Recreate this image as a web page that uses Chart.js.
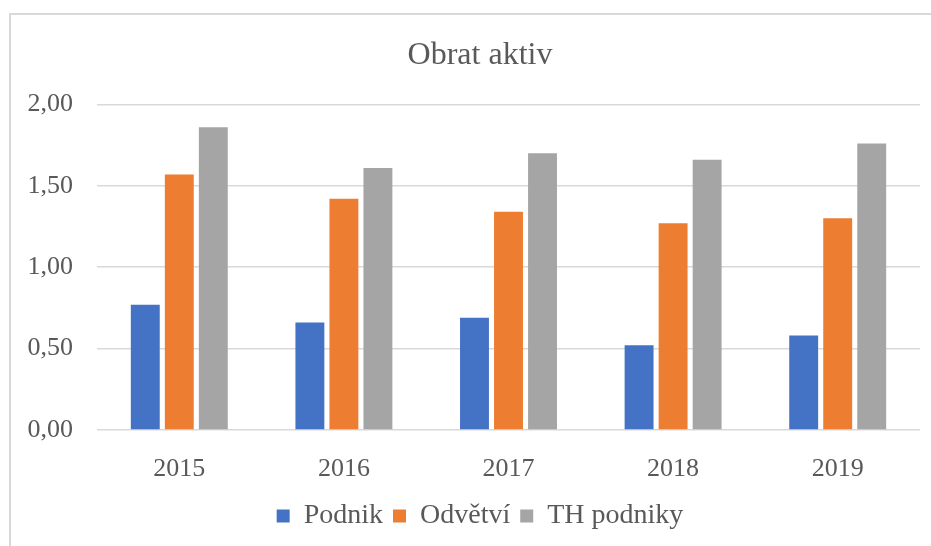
<!DOCTYPE html>
<html>
<head>
    <meta charset="UTF-8">
    <title>Obrat aktiv</title>
    <script src="https://cdn.jsdelivr.net/npm/chart.js@4.4.1/dist/chart.umd.min.js"></script>
    <style>
        html, body { margin: 0; padding: 0; background: #fff; overflow: hidden; }
        #frame { position: absolute; left: 9px; top: 13px; width: 960px; height: 600px;
                 border: 2px solid #d9d9d9; box-sizing: border-box; }
        #wrap { position: absolute; left: 0; top: 0; width: 931px; height: 546px; }
    </style>
</head>
<body>
<div id="frame"></div>
<div id="wrap">
    <canvas id="chart" width="931" height="546"></canvas>
</div>

<script>
    // Chart data
    var years = ['2015', '2016', '2017', '2018', '2019'];
    var podnik = [0.77, 0.66, 0.69, 0.52, 0.58];
    var odvetvi = [1.57, 1.42, 1.34, 1.27, 1.30];
    var thPodniky = [1.86, 1.61, 1.70, 1.66, 1.76];

    var textColor = '#595959';
    var fontFamily = '"Liberation Serif", "Times New Roman", serif';

    // Title and legend are centred on the whole frame, not on the plot,
    // so push their boxes right a bit after layout.
    var shiftBoxes = {
        id: 'shiftBoxes',
        afterLayout: function(chart) {
            if (chart.titleBlock) { chart.titleBlock.left += 40; }
            if (chart.legend) { chart.legend.left += 40; }
        }
    };

    var ctx = document.getElementById('chart').getContext('2d');
    var chart = new Chart(ctx, {
        type: 'bar',
        data: {
            labels: years,
            datasets: [{
                label: 'Podnik',
                data: podnik,
                backgroundColor: '#4472c4'
            }, {
                label: 'Odvětví',
                data: odvetvi,
                backgroundColor: '#ed7d31'
            }, {
                label: 'TH podniky',
                data: thPodniky,
                backgroundColor: '#a5a5a5'
            }]
        },
        plugins: [shiftBoxes],
        options: {
            responsive: false,
            animation: false,
            layout: { padding: { left: 0, right: 11, top: 0, bottom: 6 } },
            datasets: {
                bar: { categoryPercentage: 0.62, barPercentage: 0.85 }
            },
            plugins: {
                title: {
                    display: true,
                    text: 'Obrat aktiv',
                    color: textColor,
                    font: { family: fontFamily, size: 32, weight: 'normal' },
                    padding: { top: 36, bottom: 30 }
                },
                legend: {
                    position: 'bottom',
                    labels: {
                        color: textColor,
                        font: { family: fontFamily, size: 28 },
                        boxWidth: 13,
                        boxHeight: 13,
                        padding: 10
                    }
                },
                tooltip: { enabled: false }
            },
            scales: {
                x: {
                    grid: { display: false },
                    border: { display: false },
                    ticks: {
                        color: textColor,
                        font: { family: fontFamily, size: 26 },
                        padding: 16
                    },
                    afterFit: function(scale) { scale.height = 62; }
                },
                y: {
                    min: 0,
                    max: 2,
                    grid: { color: '#d9d9d9', lineWidth: 1.5, drawTicks: false },
                    border: { display: false },
                    ticks: {
                        stepSize: 0.5,
                        color: textColor,
                        font: { family: fontFamily, size: 26 },
                        padding: 24,
                        callback: function(v) { return v.toFixed(2).replace('.', ','); }
                    },
                    afterFit: function(scale) { scale.width = 97; }
                }
            }
        }
    });
</script>
</body>
</html>
